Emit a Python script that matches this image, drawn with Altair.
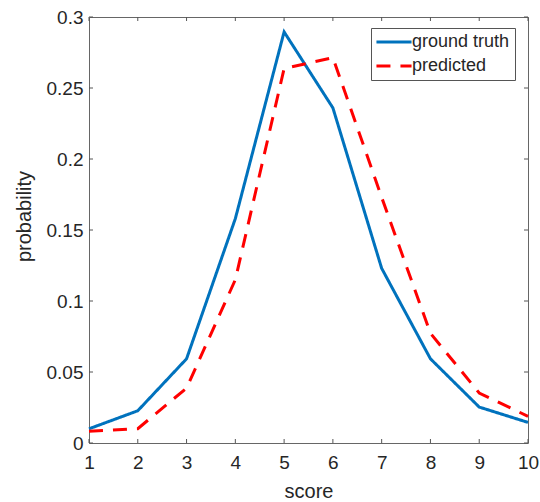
import altair as alt
import pandas as pd

scores = [1, 2, 3, 4, 5, 6, 7, 8, 9, 10]
ground_truth = [0.0100, 0.0227, 0.0593, 0.158, 0.2895, 0.236, 0.123, 0.0593, 0.0253, 0.0145]
predicted = [0.0082, 0.0101, 0.0387, 0.115, 0.2637, 0.2714, 0.173, 0.0773, 0.0352, 0.0188]
series_names = ["ground truth", "predicted"]
y_ticks = [0, 0.05, 0.1, 0.15, 0.2, 0.25, 0.3]

W, H = 439, 426
FONT = "Liberation Sans"
TXT = "#262626"

rows = []
for s, g, p in zip(scores, ground_truth, predicted):
    rows.append({"score": s, "probability": g, "series": series_names[0]})
    rows.append({"score": s, "probability": p, "series": series_names[1]})
df = pd.DataFrame(rows)

xscale = alt.Scale(domain=[1, 10], nice=False, zero=False)
yscale = alt.Scale(domain=[0, 0.3], nice=False)

lines = alt.Chart(df).mark_line(strokeWidth=3).encode(
    x=alt.X("score:Q", scale=xscale,
            axis=alt.Axis(title="score", values=scores, format="d", grid=False,
                          ticks=False, tickSize=0, domain=False, labelPadding=10,
                          labelFontSize=19, labelFont=FONT, labelColor=TXT,
                          titleFontSize=20, titleFont=FONT, titleColor=TXT,
                          titleFontWeight="normal", titleBaseline="alphabetic",
                          titleY=54, labelFlush=False)),
    y=alt.Y("probability:Q", scale=yscale,
            axis=alt.Axis(title="probability", values=y_ticks, format="~g", grid=False,
                          ticks=False, tickSize=0, domain=False, labelPadding=6,
                          labelFontSize=19, labelFont=FONT, labelColor=TXT,
                          titleFontSize=20, titleFont=FONT, titleColor=TXT,
                          titleFontWeight="normal", titleBaseline="alphabetic",
                          titleX=-59, titleY=199, labelFlush=False)),
    color=alt.Color("series:N",
                    scale=alt.Scale(domain=series_names, range=["#0072BD", "#FF0000"]),
                    legend=alt.Legend(title=None, orient="none", legendX=282, legendY=11,
                                      symbolType="M-4,0L4,0", symbolSize=77,
                                      symbolStrokeWidth=3, symbolOffset=9,
                                      labelFontSize=18,
                                      labelFont=FONT, labelColor=TXT, labelOffset=9,
                                      padding=5, rowPadding=6, strokeColor="#555",
                                      fillColor="white", labelLimit=300)),
    strokeDash=alt.StrokeDash("series:N",
                              scale=alt.Scale(domain=series_names, range=[[1, 0], [14, 10]]),
                              legend=None),
    order="score:Q",
)

xt = pd.DataFrame({"score": scores})
yt = pd.DataFrame({"probability": y_ticks})
tick_color = "#555"
tl = 4
xb = alt.Chart(xt).mark_rule(color=tick_color, strokeWidth=1).encode(
    x=alt.X("score:Q", scale=xscale), y=alt.value(H), y2=alt.value(H - tl))
xtop = alt.Chart(xt).mark_rule(color=tick_color, strokeWidth=1).encode(
    x=alt.X("score:Q", scale=xscale), y=alt.value(0), y2=alt.value(tl))
yl = alt.Chart(yt).mark_rule(color=tick_color, strokeWidth=1).encode(
    y=alt.Y("probability:Q", scale=yscale), x=alt.value(0), x2=alt.value(tl))
yr = alt.Chart(yt).mark_rule(color=tick_color, strokeWidth=1).encode(
    y=alt.Y("probability:Q", scale=yscale), x=alt.value(W - tl), x2=alt.value(W))

chart = alt.layer(lines, xb, xtop, yl, yr).properties(
    width=W, height=H,
    padding={"left": 89, "top": 17, "right": 12, "bottom": 59},
    autosize=alt.AutoSizeParams(type="none"),
    background="white",
).configure_view(stroke="#666", strokeWidth=1).configure_legend(strokeWidth=1)

chart.save("out.html", embed_options={"renderer": "svg", "actions": False})
